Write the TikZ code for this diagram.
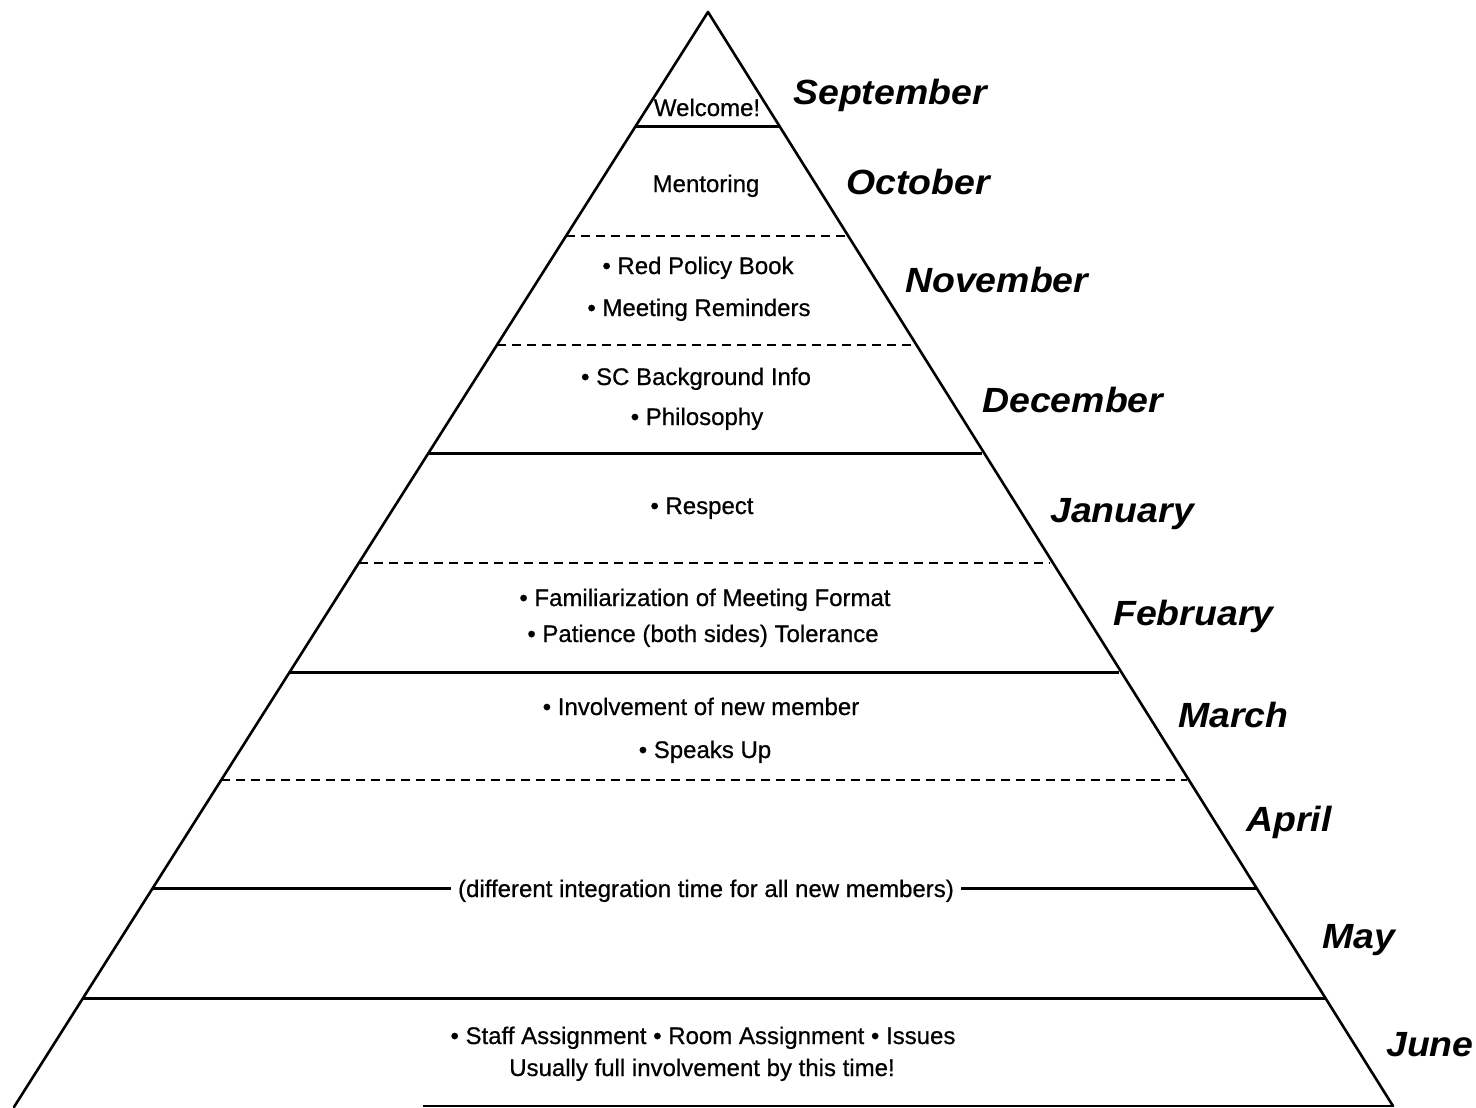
\documentclass[tikz,border=0pt]{standalone}
\usepackage{fontspec}
\setmainfont{Liberation Sans}
\newfontfamily\bodyfont{Liberation Sans}[FakeBold=0.6]
\newfontfamily\monthfont{Liberation Sans}[FakeStretch=1.07]
\usetikzlibrary{calc}
\tikzset{
  side/.style={line width=2.6pt, line cap=round, line join=round},
  solidband/.style={line width=3pt},
  dashband/.style={line width=2.2pt, dash pattern=on 9pt off 6pt},
  body/.style={inner sep=0pt, anchor=base, font=\bodyfont\fontsize{24}{28}\selectfont},
  month/.style={inner sep=0pt, anchor=base west, font=\monthfont\fontsize{35}{40}\selectfont\bfseries\itshape}
}
\begin{document}
\begin{tikzpicture}[x=1pt,y=-1pt]
\useasboundingbox (0,0) rectangle (1476,1108);
\coordinate (apex) at (708,12);
\coordinate (bl) at (14,1107);
\coordinate (br) at (1393,1106);
\coordinate (bm) at (423,1106);
% sides
\draw[side] (bl) -- (apex) -- (br);
\draw[line width=1.6pt] (bm) -- (br);
% band lines
\draw[solidband] (635.7,126) -- (779.4,126);
\draw[dashband] (566,236) -- (848.4,236);
\draw[dashband] (496.9,345) -- (912,345);
\draw[solidband] (428.5,453) -- (982,453);
\draw[dashband] (358.8,563) -- (1049,563);
\draw[solidband] (289.7,672) -- (1119,672);
\draw[dashband] (221.2,780) -- (1187,780);
\draw[solidband] (83.1,998) -- (1325.9,998);
% texts
\node[body] (t0) at (707,116) {Welcome!};
\node[body] (t1) at (706,192) {Mentoring};
\node[body] (t2) at (698,274) {• Red Policy Book};
\node[body] (t3) at (699,316) {• Meeting Reminders};
\node[body] (t4) at (696,385) {• SC Background Info};
\node[body] (t5) at (697,425) {• Philosophy};
\node[body] (t6) at (702,514) {• Respect};
\node[body] (t7) at (705,606) {• Familiarization of Meeting Format};
\node[body] (t8) at (703,642) {• Patience (both sides) Tolerance};
\node[body] (t9) at (701,715) {• Involvement of new member};
\node[body] (t10) at (705,758) {• Speaks Up};
\node[body, inner xsep=7pt] (t11) at (706,897) {(different integration time for all new members)};
\node[body] (t12) at (703,1044) {• Staff Assignment • Room Assignment • Issues};
\node[body] (t13) at (702,1076) {Usually full involvement by this time!};
\coordinate (ml) at (152.8,888);
\coordinate (mr) at (1257,888);
\draw[solidband] (ml) -- (ml -| t11.west);
\draw[solidband] (mr -| t11.east) -- (mr);
% months
\node[month] (m1) at (793,105) {September};
\node[month] (m2) at (846,194) {October};
\node[month] (m3) at (905,292) {November};
\node[month] (m4) at (982,412) {December};
\node[month] (m5) at (1050,522) {January};
\node[month] (m6) at (1113,625) {February};
\node[month] (m7) at (1178,727) {March};
\node[month] (m8) at (1246,831) {April};
\node[month] (m9) at (1322,948) {May};
\node[month] (m10) at (1386,1056) {June};
\end{tikzpicture}
\end{document}
